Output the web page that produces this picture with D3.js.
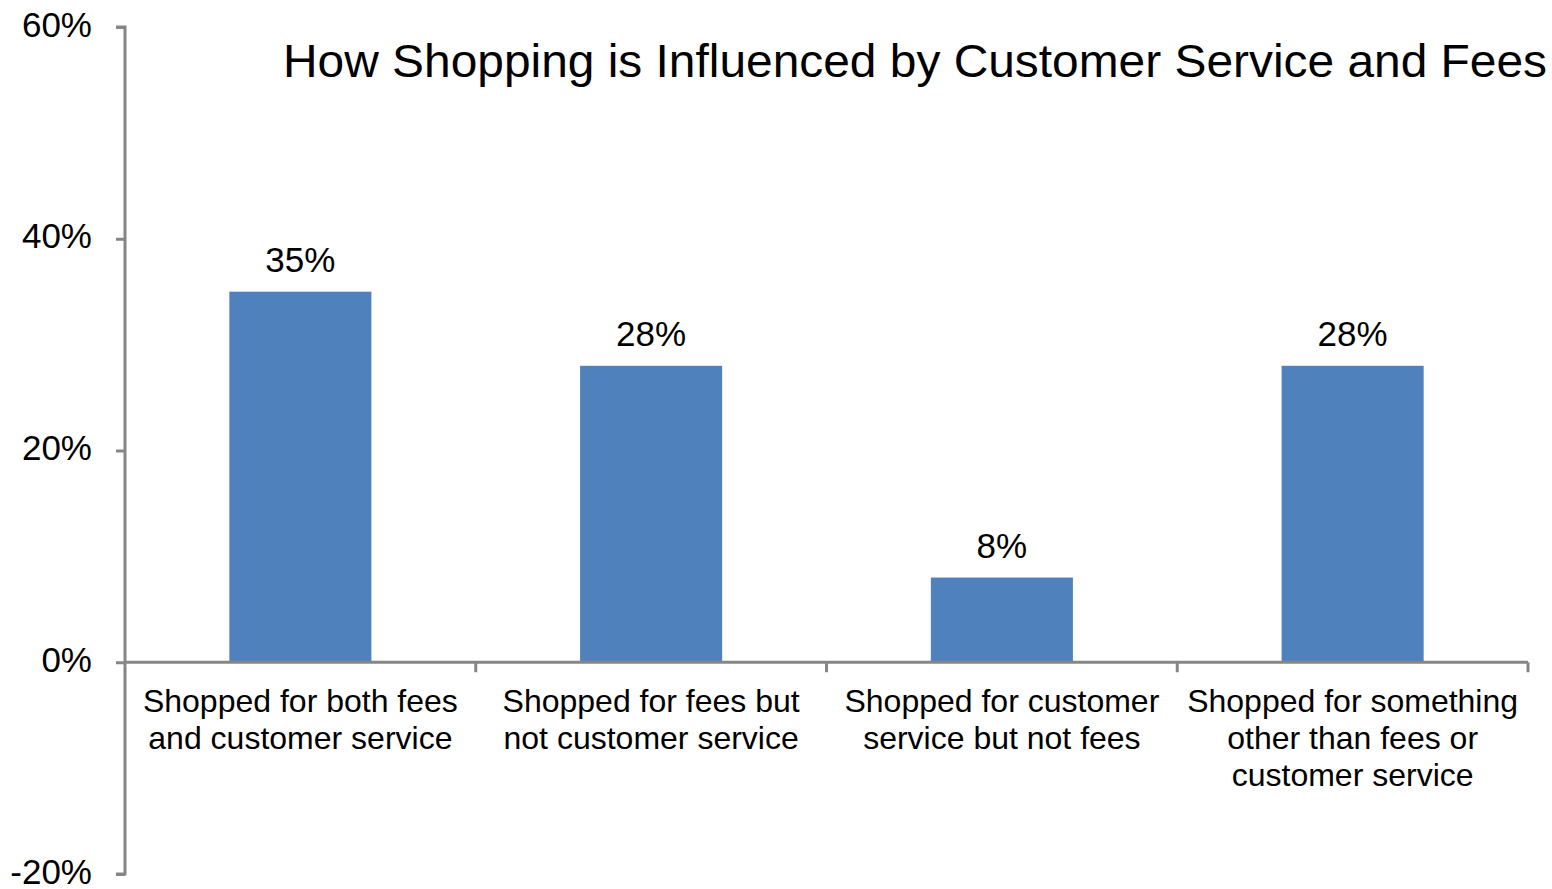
<!DOCTYPE html>
<html>
<head>
<meta charset="utf-8">
<script src="https://cdn.jsdelivr.net/npm/d3@7"></script>
<style>
  html, body { margin: 0; padding: 0; background: #fff; }
  svg { display: block; font-family: "Liberation Sans", Arial, sans-serif; }
</style>
</head>
<body>
<svg id="chart" width="1552" height="889"></svg>
<script>
// Survey shares by shopping motivation
const categories = [
  ["Shopped for both fees", "and customer service"],
  ["Shopped for fees but", "not customer service"],
  ["Shopped for customer", "service but not fees"],
  ["Shopped for something", "other than fees or", "customer service"]
];
const values = [35, 28, 8, 28];
const yTicks = [-20, 0, 20, 40, 60];
const titleText = "How Shopping is Influenced by Customer Service and Fees";

(function () {
  const svg = d3.select("#chart");
  const axisColor = "#868686";
  const plotLeft = 125, plotRight = 1528, plotTop = 27, plotBottom = 874;

  const y = d3.scaleLinear().domain([-20, 60]).range([plotBottom, plotTop]);
  const x = d3.scaleBand()
    .domain(d3.range(categories.length))
    .range([plotLeft, plotRight])
    .paddingInner(0.595)
    .paddingOuter(0.2975);

  // Bars
  svg.append("g").selectAll("rect")
    .data(values)
    .join("rect")
    .attr("x", (d, i) => x(i))
    .attr("y", d => y(d))
    .attr("width", x.bandwidth())
    .attr("height", d => y(0) - y(d))
    .attr("fill", "#4F81BD");

  // Value labels
  svg.append("g").selectAll("text")
    .data(values)
    .join("text")
    .attr("x", (d, i) => x(i) + x.bandwidth() / 2)
    .attr("y", d => y(d) - 20)
    .attr("text-anchor", "middle")
    .attr("font-size", 35)
    .attr("fill", "#000")
    .text(d => d + "%");

  // Y axis
  const yAxis = d3.axisLeft(y)
    .tickValues(yTicks)
    .tickSize(9)
    .tickPadding(24)
    .tickFormat(d => d + "%");
  const gy = svg.append("g").attr("transform", `translate(${plotLeft},0)`).call(yAxis);
  gy.select(".domain").attr("stroke", axisColor).attr("stroke-width", 3)
    .attr("d", `M-9,${plotTop}H0V${plotBottom}H-9`);
  gy.selectAll(".tick line").attr("stroke", axisColor).attr("stroke-width", 3);
  gy.selectAll(".tick text")
    .attr("font-size", 35)
    .attr("fill", "#000")
    .attr("dy", "0.26em")
    .attr("font-family", "Liberation Sans, Arial, sans-serif");

  // X axis along zero with separators between categories
  const step = x.step();
  const boundaries = d3.range(1, categories.length + 1).map(i => plotLeft + i * step);
  const gx = svg.append("g");
  gx.append("line")
    .attr("x1", plotLeft).attr("x2", plotRight)
    .attr("y1", y(0)).attr("y2", y(0))
    .attr("stroke", axisColor).attr("stroke-width", 3);
  gx.selectAll("line.sep")
    .data(boundaries)
    .join("line")
    .attr("class", "sep")
    .attr("x1", d => d).attr("x2", d => d)
    .attr("y1", y(0)).attr("y2", y(0) + 10)
    .attr("stroke", axisColor).attr("stroke-width", 3);

  // Category labels
  const catG = svg.append("g");
  categories.forEach((lines, i) => {
    const t = catG.append("text")
      .attr("text-anchor", "middle")
      .attr("font-size", 32)
      .attr("fill", "#000");
    lines.forEach((ln, j) => {
      t.append("tspan")
        .attr("x", x(i) + x.bandwidth() / 2)
        .attr("y", y(0) + 50 + j * 37)
        .text(ln);
    });
  });

  // Title
  svg.append("text")
    .attr("x", 283)
    .attr("y", 77)
    .attr("font-size", 47)
    .attr("textLength", 1264)
    .attr("lengthAdjust", "spacingAndGlyphs")
    .attr("fill", "#000")
    .text(titleText);
})();
</script>
</body>
</html>
